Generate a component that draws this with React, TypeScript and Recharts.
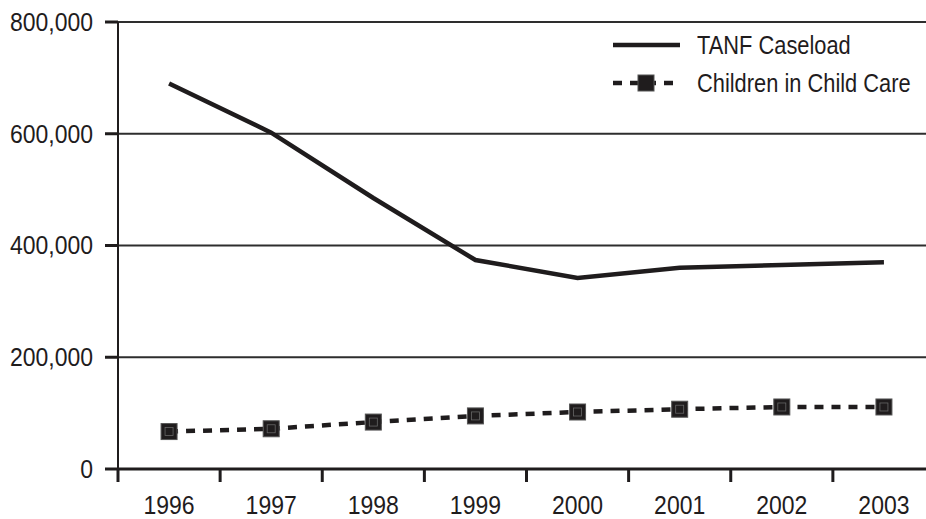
import { CartesianGrid, Line, LineChart, XAxis, YAxis } from "recharts";

const years = ["1996", "1997", "1998", "1999", "2000", "2001", "2002", "2003"];
const tanfCaseload = [690000, 602000, 485000, 374000, 342000, 360000, 365000, 370000];
const childrenInCare = [67000, 72000, 84000, 95000, 102000, 107000, 111000, 111000];
const yTicks = [0, 200000, 400000, 600000, 800000];

const INK = "#1f1c1d";
const GRID = "#2e2e2e";
const FONT = '"Liberation Sans", Arial, sans-serif';
// Liberation Sans squeezed sideways stands in for a condensed face
const TICK_SQUEEZE = 0.92;
const LEGEND_SQUEEZE = 0.84;

// points sit in the middle of each year band; ticks mark band edges
const data = years.map((year, i) => ({
  x: i + 0.5,
  year,
  tanf: tanfCaseload[i],
  children: childrenInCare[i],
}));

const xTicks = years.flatMap((_, i) => [i, i + 0.5]);

function YearTick(props: any) {
  const { x, y, payload } = props;
  const v = payload.value as number;
  if (Number.isInteger(v)) {
    return <line x1={x} x2={x} y1={y} y2={y + 13} stroke={INK} strokeWidth={3} />;
  }
  return (
    <text
      transform={`translate(${x},${y + 27}) scale(${TICK_SQUEEZE},1)`}
      dy="0.71em"
      textAnchor="middle"
      fill={INK}
      fontSize={25}
      fontFamily={FONT}
    >
      {years[Math.floor(v)]}
    </text>
  );
}

function ValueTick(props: any) {
  const { x, y, payload } = props;
  return (
    <text
      transform={`translate(${x},${y}) scale(${TICK_SQUEEZE},1)`}
      dy="0.355em"
      textAnchor="end"
      fill={INK}
      fontSize={25}
      fontFamily={FONT}
    >
      {(payload.value as number).toLocaleString("en-US")}
    </text>
  );
}

function SquareDot(props: any) {
  const { cx, cy } = props;
  if (cx == null || cy == null) return null;
  return (
    <g>
      <rect x={cx - 8} y={cy - 8} width={16} height={16} fill={INK} stroke="#555" strokeWidth={1} />
      <rect x={cx - 4} y={cy - 4} width={8} height={8} fill="none" stroke="#666" strokeWidth={0.8} />
    </g>
  );
}

function ChartLegend() {
  const row = { display: "flex", alignItems: "center", height: 38, whiteSpace: "nowrap" } as const;
  const label = {
    fontSize: 26,
    fontFamily: FONT,
    color: INK,
    marginLeft: 17,
    display: "inline-block",
    transform: `scaleX(${LEGEND_SQUEEZE})`,
    transformOrigin: "left center",
  } as const;
  return (
    <div style={{ position: "absolute", left: 613, top: 26, display: "flex", flexDirection: "column" }}>
      <div style={row}>
        <svg width={67} height={10}>
          <line x1={0} x2={67} y1={5} y2={5} stroke={INK} strokeWidth={4.5} />
        </svg>
        <span style={label}>TANF Caseload</span>
      </div>
      <div style={row}>
        <svg width={67} height={20}>
          <line x1={0} x2={67} y1={10} y2={10} stroke={INK} strokeWidth={4.5} strokeDasharray="9 8" />
          <rect x={25} y={2} width={16} height={16} fill={INK} stroke="#555" strokeWidth={1} />
        </svg>
        <span style={label}>Children in Child Care</span>
      </div>
    </div>
  );
}

export default function App() {
  return (
    <div style={{ position: "absolute", left: 0, top: 0, width: 926, height: 519, overflow: "hidden", background: "#fff" }}>
      <LineChart
        width={940}
        height={519}
        data={data}
        margin={{ top: 22, right: 5, left: 0, bottom: 0 }}
      >
        <CartesianGrid vertical={false} stroke={GRID} strokeWidth={2} />
        <XAxis
          dataKey="x"
          type="number"
          domain={[0, years.length]}
          ticks={xTicks}
          interval={0}
          tickSize={0}
          tickMargin={0}
          tickLine={false}
          axisLine={{ stroke: INK, strokeWidth: 3 }}
          tick={<YearTick />}
          height={50}
        />
        <YAxis
          domain={[0, 800000]}
          ticks={yTicks}
          interval={0}
          width={118}
          tickSize={13}
          tickMargin={12}
          axisLine={{ stroke: INK, strokeWidth: 2 }}
          tickLine={{ stroke: INK, strokeWidth: 3 }}
          tick={<ValueTick />}
        />
        <Line
          dataKey="tanf"
          stroke={INK}
          strokeWidth={4.5}
          dot={false}
          isAnimationActive={false}
        />
        <Line
          dataKey="children"
          stroke={INK}
          strokeWidth={4.5}
          strokeDasharray="9 8"
          dot={<SquareDot />}
          isAnimationActive={false}
        />
      </LineChart>
      <ChartLegend />
    </div>
  );
}
